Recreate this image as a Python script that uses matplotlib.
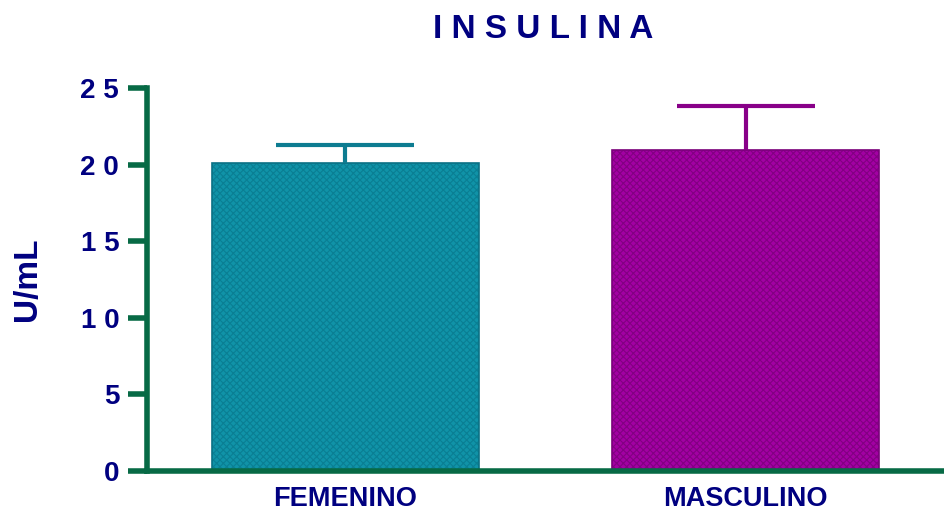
import matplotlib
matplotlib.use("Agg")
import matplotlib.pyplot as plt
from matplotlib.ticker import FuncFormatter

categories = ["FEMENINO", "MASCULINO"]
means = [20.1, 20.95]
errors_up = [1.18, 2.87]
y_ticks = [0, 5, 10, 15, 20, 25]

face_colors = ["#1093a8", "#a300a3"]
hatch_colors = ["#0a7f93", "#820082"]
edge_colors = ["#0a7185", "#7a007a"]
err_colors = ["#0d7c91", "#880088"]
navy = "#000080"
axis_green = "#076a45"

plt.rcParams["font.family"] = ["Liberation Sans", "DejaVu Sans"]
plt.rcParams["hatch.linewidth"] = 0.8

fig = plt.figure(figsize=(9.44, 5.13), dpi=100)
ax = fig.add_axes([0.1557, 0.0819, 0.8443, 0.7466])

x = list(range(len(categories)))
for i in x:
    # checkered fill
    ax.bar(x[i], means[i], width=0.6675, color=face_colors[i],
           edgecolor=hatch_colors[i], hatch="xxxxx", linewidth=0, zorder=2)
    # outline
    ax.bar(x[i], means[i], width=0.6675, fill=False,
           edgecolor=edge_colors[i], linewidth=1.2, zorder=2.5)
    _, caps, _ = ax.errorbar(x[i], means[i], yerr=[[0], [errors_up[i]]],
                             fmt="none", ecolor=err_colors[i], elinewidth=3,
                             capsize=49.5, capthick=3, zorder=3)
    caps[0].set_visible(False)

ax.set_xlim(-0.496, 1.496)
ax.set_ylim(0, 25)
ax.set_xticks(x)
ax.set_xticklabels(categories, fontsize=19.5, fontweight="bold", color=navy)
ax.set_yticks(y_ticks)
ax.yaxis.set_major_formatter(FuncFormatter(lambda v, p: " ".join(str(int(v)))))
for lab in ax.get_yticklabels():
    lab.set_fontsize(20)
    lab.set_fontweight("bold")
    lab.set_color(navy)

ax.tick_params(axis="x", length=0, pad=11)
ax.tick_params(axis="y", length=14, width=4, color=axis_green, pad=6)
for t in ax.yaxis.get_major_ticks():
    t.tick1line.set_solid_capstyle("round")

for s in ["top", "right"]:
    ax.spines[s].set_visible(False)
for s in ["left", "bottom"]:
    ax.spines[s].set_color(axis_green)
    ax.spines[s].set_linewidth(4)

ax.set_ylabel("U/mL", fontsize=24, fontweight="bold", color=navy, labelpad=27)
fig.text(0.575, 0.943, "I N S U L I N A", ha="center", va="center",
         fontsize=24, fontweight="bold", color=navy)

fig.savefig("out.png", dpi=100)
